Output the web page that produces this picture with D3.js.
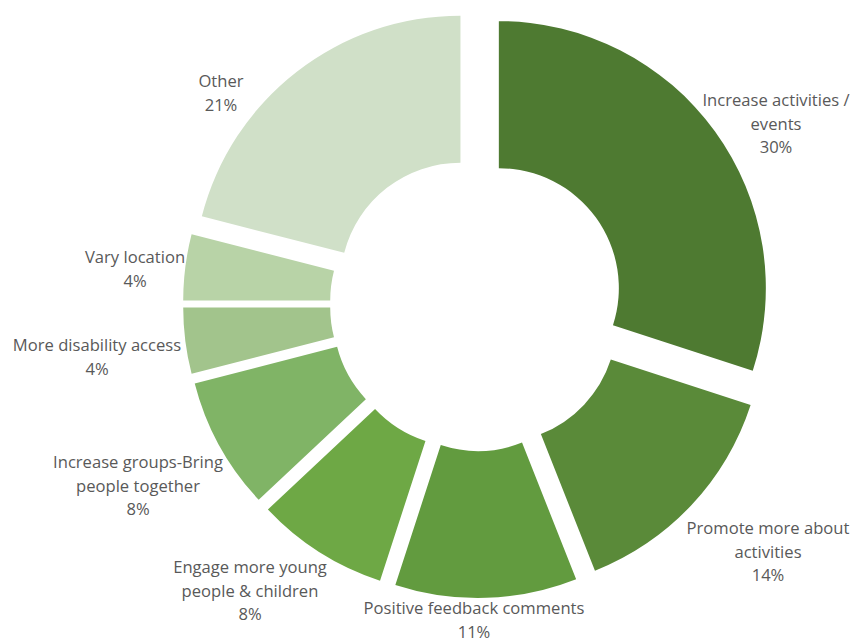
<!DOCTYPE html>
<html>
<head>
<meta charset="utf-8">
<script src="https://cdn.jsdelivr.net/npm/d3@7"></script>
<style>
  html, body { margin: 0; padding: 0; background: #ffffff; }
  svg { display: block; }
  text { font-family: "Open Sans", Lato, sans-serif; fill: #595959; }
</style>
</head>
<body>
<svg id="chart" width="857" height="642"></svg>
<script>
// Survey responses: suggested improvements (share of comments, %)
const categories = [
  "Increase activities / events",
  "Promote more about activities",
  "Positive feedback comments",
  "Engage more young people & children",
  "Increase groups-Bring people together",
  "More disability access",
  "Vary location",
  "Other"
];
const values = [30, 14, 11, 8, 8, 4, 4, 21];
const labelLines = [
  ["Increase activities /", "events"],
  ["Promote more about", "activities"],
  ["Positive feedback comments"],
  ["Engage more young", "people & children"],
  ["Increase groups-Bring", "people together"],
  ["More disability access"],
  ["Vary location"],
  ["Other"]
];
const colors = ["#4e7a31", "#5a8a39", "#629b3f", "#6ea845", "#80b466", "#a2c48c", "#b8d3a7", "#d0e0c8"];

// Layout
const cx = 477, cy = 304;
const outerR = 267, innerR = 120;
const explode = 27;
// Centre of each label block
const labelCenters = [
  [776, 124], [768, 552], [474, 620], [250, 591],
  [138, 486], [97, 357], [135, 269], [221, 93]
];
const lineH = 23.5;

const svg = d3.select("#chart");
const g = svg.append("g").attr("transform", `translate(${cx},${cy})`);

const pie = d3.pie().sort(null).value(d => d)(values);
const arc = d3.arc().innerRadius(innerR).outerRadius(outerR);

g.selectAll("path.slice")
  .data(pie)
  .join("path")
  .attr("class", "slice")
  .attr("d", arc)
  .attr("fill", (d, i) => colors[i])
  .attr("transform", d => {
    const a = (d.startAngle + d.endAngle) / 2;
    return `translate(${explode * Math.sin(a)},${-explode * Math.cos(a)})`;
  });

// Data labels: category name followed by percentage
const lab = svg.selectAll("text.lbl")
  .data(pie)
  .join("text")
  .attr("class", "lbl")
  .attr("text-anchor", "middle")
  .attr("font-size", 16.6);

lab.each(function(d, i) {
  const lines = labelLines[i].concat([d3.format(".0f")(d.value) + "%"]);
  const [x, y] = labelCenters[i];
  const top = y - (lines.length - 1) * lineH / 2;
  d3.select(this).selectAll("tspan")
    .data(lines)
    .join("tspan")
    .attr("x", x)
    .attr("y", (t, k) => top + k * lineH)
    .attr("dy", "0.35em")
    .text(t => t);
});
</script>
</body>
</html>
